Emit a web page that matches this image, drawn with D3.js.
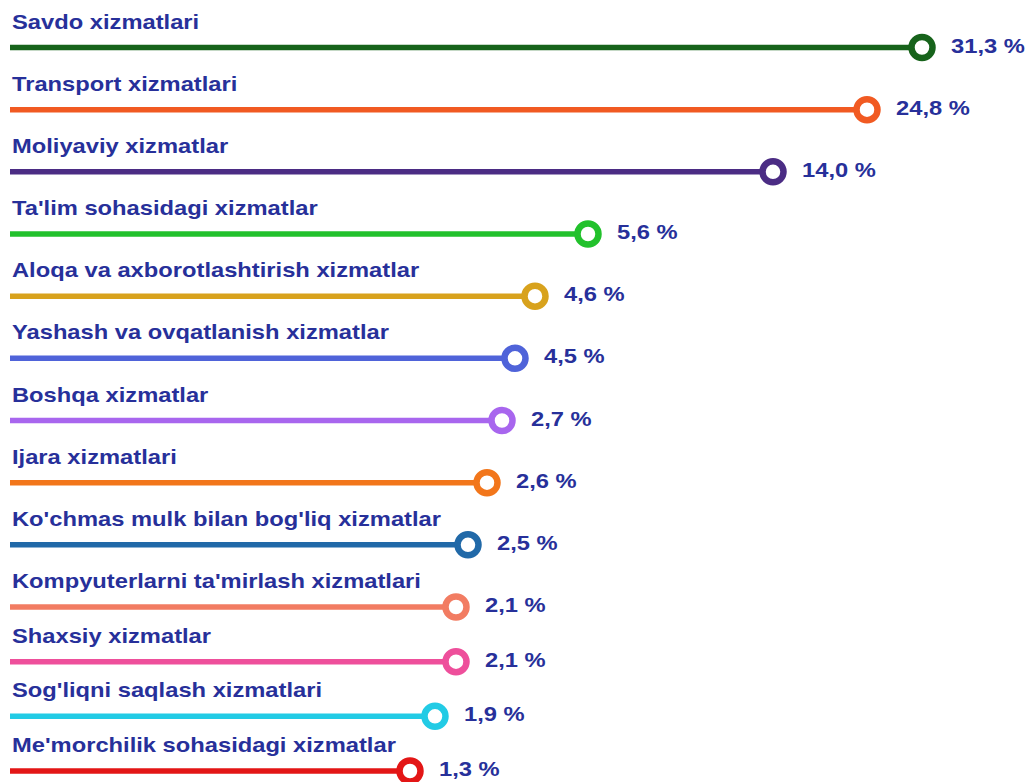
<!DOCTYPE html>
<html>
<head>
<meta charset="utf-8">
<script src="https://cdn.jsdelivr.net/npm/d3@7"></script>
<style>
  html, body { margin: 0; padding: 0; background: #ffffff; }
  svg { display: block; }
  text { font-family: "Liberation Sans", Arial, sans-serif; font-weight: bold; }
</style>
</head>
<body>
<svg id="chart" width="1031" height="782"></svg>
<script>
// ---- data ----
const categories = [
  "Savdo xizmatlari",
  "Transport xizmatlari",
  "Moliyaviy xizmatlar",
  "Ta'lim sohasidagi xizmatlar",
  "Aloqa va axborotlashtirish xizmatlar",
  "Yashash va ovqatlanish xizmatlar",
  "Boshqa xizmatlar",
  "Ijara xizmatlari",
  "Ko'chmas mulk bilan bog'liq xizmatlar",
  "Kompyuterlarni ta'mirlash xizmatlari",
  "Shaxsiy xizmatlar",
  "Sog'liqni saqlash xizmatlari",
  "Me'morchilik sohasidagi xizmatlar"
];
const values = [31.3, 24.8, 14.0, 5.6, 4.6, 4.5, 2.7, 2.6, 2.5, 2.1, 2.1, 1.9, 1.3];

// ---- styles ----
const palette = [
  "#17631b", "#f15a22", "#4b2c84", "#22c12c", "#d8a21d", "#4f63d9", "#a866ee",
  "#f2761b", "#2169a8", "#f27c62", "#ee4f9b", "#22cbe5", "#e31616"
];
const textColor = "#27309a";

const svg = d3.select("#chart");

// Non-proportional (infographic) length scale
const x = d3.scaleLinear()
  .domain([0, 1.3, 1.9, 2.1, 2.5, 2.6, 2.7, 4.5, 4.6, 5.6, 14, 24.8, 31.3])
  .range([10, 410, 435, 456, 468, 487, 502, 515, 535, 588, 773, 867, 922]);

const y = d3.scaleLinear()
  .domain([0, 9, categories.length - 1])
  .range([47.5, 607, 771]);

const fmt = v => d3.format(".1f")(v).replace(".", ",") + " %";

const rows = svg.selectAll("g.row")
  .data(categories.map((c, i) => ({ c, v: values[i], i })))
  .join("g")
  .attr("class", "row");

rows.append("line")
  .attr("x1", x(0))
  .attr("x2", d => x(d.v))
  .attr("y1", d => y(d.i))
  .attr("y2", d => y(d.i))
  .attr("stroke", d => palette[d.i])
  .attr("stroke-width", 5.5);

rows.append("circle")
  .attr("cx", d => x(d.v))
  .attr("cy", d => y(d.i))
  .attr("r", 10.5)
  .attr("fill", "#ffffff")
  .attr("stroke", d => palette[d.i])
  .attr("stroke-width", 6.5);

rows.append("text")
  .attr("transform", d => `translate(12,${y(d.i) - 19}) scale(1.13,1)`)
  .attr("fill", textColor)
  .attr("font-size", 21)
  .text(d => d.c);

rows.append("text")
  .attr("transform", d => `translate(${x(d.v) + 29},${y(d.i) + 5}) scale(1.13,1)`)
  .attr("fill", textColor)
  .attr("font-size", 21)
  .text(d => fmt(d.v));
</script>
</body>
</html>
